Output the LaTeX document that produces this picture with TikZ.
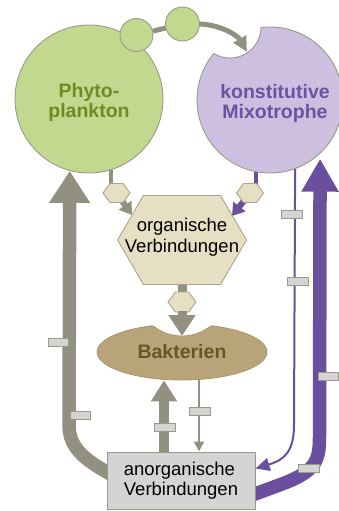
\documentclass[tikz,border=0pt]{standalone}
\usepackage{fontspec}
\setmainfont{Liberation Sans}
\usepackage{xcolor}
\usepackage{tikz}
\usetikzlibrary{arrows.meta, shapes.geometric, backgrounds}

\definecolor{vertclair}{HTML}{C1D88E}
\definecolor{vertfonce}{HTML}{6C8B25}
\definecolor{violetclair}{HTML}{CCBFDF}
\definecolor{violetfleche}{HTML}{6A4F9F}
\definecolor{violettexte}{HTML}{6B52A3}
\definecolor{grisfleche}{HTML}{929181}
\definecolor{grisbord}{HTML}{9B9A88}
\definecolor{beige}{HTML}{E6DFC4}
\definecolor{beigebord}{HTML}{A9A48C}
\definecolor{brun}{HTML}{B9A479}
\definecolor{brunbord}{HTML}{A8956E}
\definecolor{bruntexte}{HTML}{6C5524}
\definecolor{grisboite}{HTML}{D4D4D4}

% hexagone : centre, demi-largeur, demi-largeur du haut, demi-hauteur
\newcommand{\hexagone}[4]{\draw[fill=beige, draw=beigebord, line width=0.9pt] (#1) +(-#2,0) -- +(-#3,-#4) -- +(#3,-#4) -- +(#2,0) -- +(#3,#4) -- +(-#3,#4) -- cycle;}

\begin{document}
\begin{tikzpicture}[x=1pt, y=-1pt,
    bord/.style={draw=grisbord, line width=0.9pt},
    gras/.style={font=\fontsize{19.5}{20}\selectfont\bfseries, align=center},
    texte/.style={font=\fontsize{18.5}{20.5}\selectfont, align=center},
    bouchon/.style={rectangle, fill=grisboite, draw=grisbord, line width=0.8pt, minimum width=20pt, minimum height=8pt, inner sep=0pt}]

    % Cadre de l'image
    \useasboundingbox (0,0) rectangle (338,511);

    % Cercle du phytoplancton
    \node[circle, bord, fill=vertclair, minimum size=148pt, inner sep=0pt] (phyto) at (89,99) {};
    \node[gras, text=vertfonce] (phytotexte) at (89,102) {Phyto-\\plankton};

    % Cercle des mixotrophes, avec l'encoche
    \node[circle, bord, fill=violetclair, minimum size=146pt, inner sep=0pt] (mixo) at (270,100) {};
    \begin{scope}
      \clip (mixo.center) circle (75);
      \fill[white] (230,27) circle (31);
    \end{scope}
    \begin{scope}
      \clip (mixo.center) circle (73);
      \draw[bord] (230,27) circle (31);
    \end{scope}
    \node[gras, text=violettexte] (mixotexte) at (275,103) {konstitutive\\Mixotrophe};

    % Petites cellules mangees
    \node[circle, bord, fill=vertclair, minimum size=33pt, inner sep=0pt] (k1) at (136.5,35) {};
    \node[circle, bord, fill=vertclair, minimum size=34pt, inner sep=0pt] (k2) at (182.5,24) {};
    \draw[grisfleche, line width=5pt, -{Triangle[length=15pt, width=14pt]}] (k2.east) .. controls (222,25) and (238,36) .. ([shift={(-23,-48)}]mixo.center);

    % Hexagone des composes organiques
    \coordinate (org) at (182,240);
    \hexagone{org}{64.5}{38.5}{44.5}
    \node[texte] (orgtexte) at (182,237) {organische\\Verbindungen};

    % Petits hexagones
    \coordinate (hexg) at (116.5,193);
    \hexagone{hexg}{13.5}{6.5}{9.5}
    \coordinate (hexd) at (250,193);
    \hexagone{hexd}{13.5}{6.5}{9.5}
    \coordinate (hexb) at (182,302);
    \hexagone{hexb}{14}{6.5}{10}

    % Bacteries, avec l'encoche
    \node[ellipse, fill=brun, draw=brunbord, line width=0.8pt, minimum width=170pt, minimum height=56pt, inner sep=0pt, gras, text=bruntexte] (bact) at (182,352) {Bakterien};
    \begin{scope}
      \clip (bact.center) ellipse [x radius=87, y radius=30];
      \fill[white] (182,290) circle (46);
    \end{scope}
    \begin{scope}
      \clip (bact.center) ellipse [x radius=85, y radius=28];
      \draw[brunbord, line width=0.8pt] (182,290) circle (46);
    \end{scope}
    \draw[grisfleche, line width=9pt, -{Triangle[length=21pt, width=26pt]}] ([shift={(0,9)}]hexb) -- ([shift={(0,-16)}]bact.center);

    % Boite des composes inorganiques
    \node[rectangle, fill=grisboite, draw=grisbord, line width=1pt, minimum width=148pt, minimum height=57pt, texte, align=left] (anorg) at (181,480.5) {anorganische\\Verbindungen};

    % Fleches (derriere)
    \begin{scope}[on background layer]
      \draw[grisfleche, line width=13.5pt, -{Triangle[length=32pt, width=39pt]}] ([xshift=11pt, yshift=2.5pt]anorg.west) .. controls (88,462) and (69,450) .. (69,425) -- (phyto.-105.6);
      \draw[violetfleche, line width=13.5pt, -{Triangle[length=33pt, width=35pt]}, shorten >=5pt] ([xshift=-10pt, yshift=-17pt]anorg.east) -- (282,484) .. controls (314,472) and (319.5,462) .. (319.5,438) -- (mixo.-47.3);
      \draw[violetfleche, line width=2pt, -{Triangle[length=14pt, width=13pt]}] (mixo.-70.8) -- (294,425) .. controls (294,452) and (284,460) .. ([yshift=12pt]anorg.east);
      \draw[violetfleche, line width=4pt] (mixo.-101.9) -- (mixo.-101.9 |- hexd);
      \draw[violetfleche, line width=6pt, -{Triangle[length=12pt, width=15pt]}] (hexd) -- ([shift={(50,-24)}]org);
      \draw[grisfleche, line width=4pt] (phyto.-73.5) -- (phyto.-73.5 |- hexg);
      \draw[grisfleche, line width=6pt, -{Triangle[length=12pt, width=15pt]}] (hexg) -- ([shift={(-50,-25)}]org);
      \draw[grisfleche, line width=9pt] (org) -- (hexb);
      \draw[grisfleche, line width=5pt] (k1) -- (k2);
      \draw[grisfleche, line width=9.5pt, -{Triangle[length=21pt, width=25pt]}] ([xshift=-17pt]anorg.north) -- ([xshift=-18pt]bact.south);
      \draw[grisfleche, line width=2pt, -{Triangle[length=10pt, width=10pt]}] ([xshift=17pt]bact.center) -- ([xshift=18pt]anorg.north);
    \end{scope}

    % Bouchons sur les fleches
    \node[bouchon] (b1) at (58,342) {};
    \node[bouchon] (b2) at (80,415) {};
    \node[bouchon, minimum width=21pt] (b3) at (164.5,427) {};
    \node[bouchon, minimum width=21pt] (b4) at (199.5,411) {};
    \node[bouchon, minimum width=21pt] (b5) at (291.5,214) {};
    \node[bouchon, minimum width=21pt] (b6) at (297.5,281) {};
    \node[bouchon] (b7) at (328,376.5) {};
    \node[bouchon, minimum width=21pt] (b8) at (308.5,468.5) {};

\end{tikzpicture}
\end{document}
